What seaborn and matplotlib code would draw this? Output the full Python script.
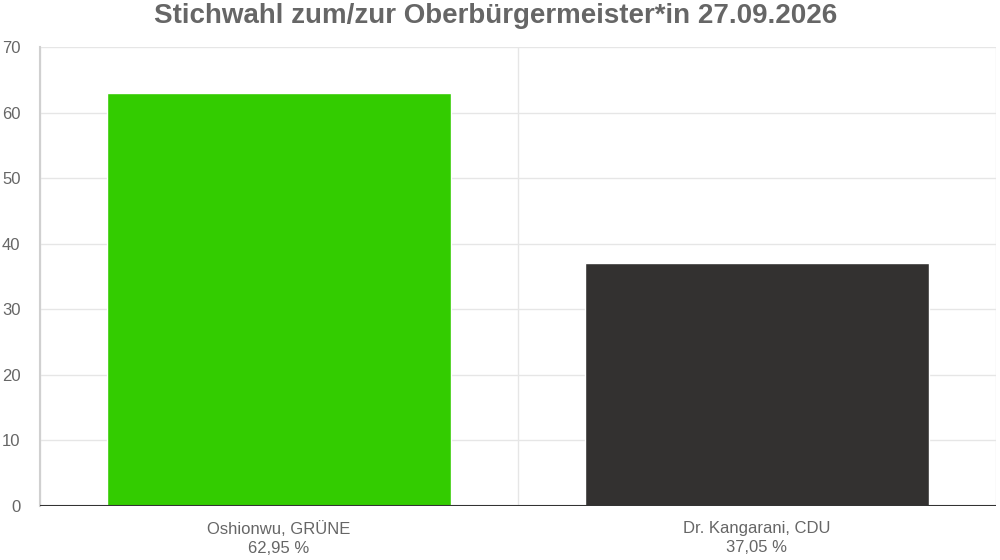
import matplotlib
import matplotlib.pyplot as plt
import seaborn as sns
import pandas as pd

matplotlib.use('Agg')

# Data
candidates = ['Oshionwu, GRÜNE', 'Dr. Kangarani, CDU']
shares = [62.95, 37.05]
share_labels = ['62,95 %', '37,05 %']
bar_colors = ['#33cc00', '#333130']
y_ticks = [0, 10, 20, 30, 40, 50, 60, 70]

df = pd.DataFrame({'candidate': candidates, 'share': shares})

sns.set_theme(style='white')
plt.rcParams['font.family'] = ['Liberation Sans', 'DejaVu Sans']

fig = plt.figure(figsize=(10, 5.6), dpi=100)
ax = fig.add_axes([0.04, 0.0964, 0.956, 0.8196])

sns.barplot(data=df, x='candidate', y='share', hue='candidate',
            palette=bar_colors, width=0.72, saturation=1, legend=False, ax=ax)

ax.set_xlim(-0.5, 1.5)
ax.set_ylim(0, 70)
ax.set_yticks(y_ticks)
ax.set_yticklabels([str(t) for t in y_ticks], color='#666666', fontsize=12)

# category labels with value line
ax.set_xticks(range(len(candidates)))
ax.set_xticklabels([f'{c}\n{s}' for c, s in zip(candidates, share_labels)],
                   color='#666666', fontsize=12, linespacing=1.35)
ax.tick_params(axis='x', which='major', length=0, pad=11)
ax.tick_params(axis='y', length=12, color='#e6e6e6', pad=2)

# vertical grid at category boundaries
ax.set_xticks([-0.5, 0.5, 1.5], minor=True)
ax.tick_params(axis='x', which='minor', length=13, color='#e6e6e6', width=1)
ax.grid(True, axis='x', which='minor', color='#e6e6e6', lw=1)
ax.grid(True, axis='y', which='major', color='#e6e6e6', lw=1)
ax.set_axisbelow(True)

for side in ['top', 'right', 'bottom']:
    ax.spines[side].set_visible(False)
ax.spines['left'].set_color('#d0d0d0')
ax.spines['left'].set_linewidth(1.5)
ax.axhline(0, color='#333333', lw=1.5, zorder=3)

ax.set_xlabel('')
ax.set_ylabel('')

fig.suptitle('Stichwahl zum/zur Oberbürgermeister*in 27.09.2026',
             x=0.496, y=0.995, fontsize=20, fontweight='bold', color='#666666')

plt.savefig('out.png', dpi=100)
plt.close()
